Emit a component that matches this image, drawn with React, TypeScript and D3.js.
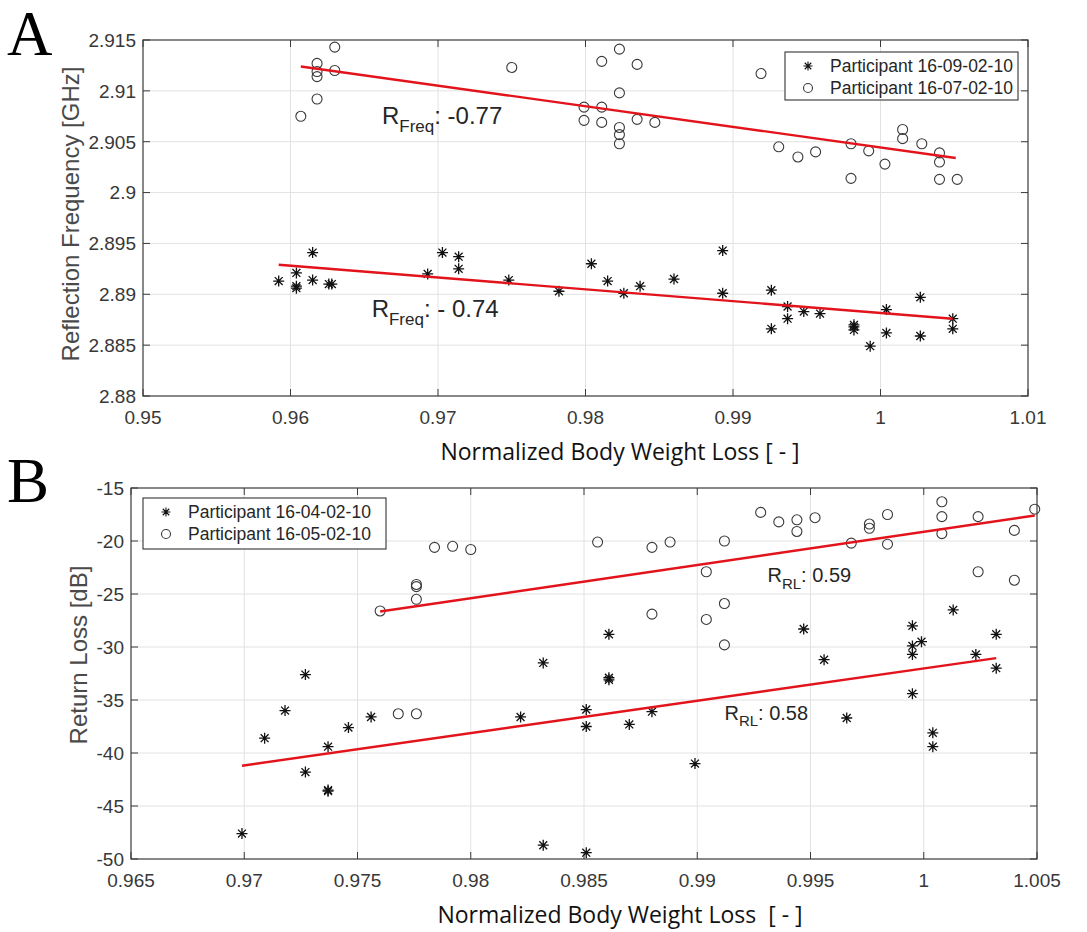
import React from 'react';
import * as d3 from 'd3';

type Pt = [number, number];

// ---------- Panel A data ----------
const aXTicks = [0.95, 0.96, 0.97, 0.98, 0.99, 1, 1.01];
const aYTicks = [2.88, 2.885, 2.89, 2.895, 2.9, 2.905, 2.91, 2.915];

const aStarX = [0.9592, 0.9604, 0.9604, 0.9604, 0.9615, 0.9615, 0.9626, 0.9628, 0.9693, 0.9703, 0.9714, 0.9714, 0.9748,
  0.9782, 0.9804, 0.9815, 0.9826, 0.9837, 0.9860, 0.9893, 0.9893, 0.9926, 0.9926, 0.9937, 0.9937, 0.9948, 0.9959,
  0.9982, 0.9982, 0.9982, 0.9993, 1.0004, 1.0004, 1.0027, 1.0027, 1.0049, 1.0049];
const aStarY = [2.8913, 2.8921, 2.8908, 2.8906, 2.8941, 2.8914, 2.8910, 2.8910, 2.8920, 2.8941, 2.8937, 2.8925, 2.8914,
  2.8903, 2.8930, 2.8913, 2.8901, 2.8908, 2.8915, 2.8943, 2.8901, 2.8904, 2.8866, 2.8888, 2.8876, 2.8883, 2.8881,
  2.8870, 2.8868, 2.8865, 2.8849, 2.8885, 2.8862, 2.8897, 2.8859, 2.8876, 2.8866];

const aCircleX = [0.9607, 0.9618, 0.9618, 0.9618, 0.9618, 0.9630, 0.9630, 0.9750, 0.9823, 0.9811, 0.9835, 0.9919,
  0.9823, 0.9799, 0.9811, 0.9799, 0.9811, 0.9823, 0.9823, 0.9823, 0.9835, 0.9847, 0.9931, 0.9944, 0.9956, 0.9980,
  0.9992, 1.0003, 0.9980, 1.0015, 1.0015, 1.0028, 1.0040, 1.0040, 1.0040, 1.0052];
const aCircleY = [2.9075, 2.9127, 2.9119, 2.9114, 2.9092, 2.9143, 2.9120, 2.9123, 2.9141, 2.9129, 2.9126, 2.9117,
  2.9098, 2.9084, 2.9084, 2.9071, 2.9069, 2.9064, 2.9057, 2.9048, 2.9072, 2.9069, 2.9045, 2.9035, 2.9040, 2.9048,
  2.9041, 2.9028, 2.9014, 2.9062, 2.9053, 2.9048, 2.9039, 2.9030, 2.9013, 2.9013];

const aStarFitX = [0.9592, 1.0049];
const aStarFitY = [2.8929, 2.8876];
const aCircleFitX = [0.9607, 1.0051];
const aCircleFitY = [2.9124, 2.9034];

// ---------- Panel B data ----------
const bXTicks = [0.965, 0.97, 0.975, 0.98, 0.985, 0.99, 0.995, 1, 1.005];
const bYTicks = [-50, -45, -40, -35, -30, -25, -20, -15];

const bStarX = [0.9699, 0.9709, 0.9718, 0.9727, 0.9727, 0.9737, 0.9737, 0.9737, 0.9746, 0.9756, 0.9822, 0.9832,
  0.9832, 0.9851, 0.9851, 0.9851, 0.9861, 0.9861, 0.9861, 0.9870, 0.9880, 0.9899, 0.9947, 0.9956, 0.9966, 0.9995,
  0.9995, 0.9995, 0.9995, 0.9999, 1.0004, 1.0004, 1.0013, 1.0023, 1.0032, 1.0032];
const bStarY = [-47.6, -38.6, -36.0, -32.6, -41.8, -39.4, -43.5, -43.6, -37.6, -36.6, -36.6, -31.5,
  -48.7, -35.9, -37.5, -49.4, -28.8, -32.9, -33.1, -37.3, -36.1, -41.0, -28.3, -31.2, -36.7, -28.0,
  -29.9, -30.7, -34.4, -29.5, -38.1, -39.4, -26.5, -30.7, -28.8, -32.0];

const bCircleX = [0.9760, 0.9776, 0.9776, 0.9776, 0.9784, 0.9792, 0.9800, 0.9768, 0.9776, 0.9856, 0.9880, 0.9888,
  0.9912, 0.9904, 0.9912, 0.9904, 0.9880, 0.9912, 0.9928, 0.9936, 0.9944, 0.9944, 0.9952, 0.9968, 0.9976, 0.9976,
  0.9984, 0.9984, 1.0008, 1.0008, 1.0008, 1.0024, 1.0024, 1.0049, 1.0040, 1.0040];
const bCircleY = [-26.6, -24.1, -24.3, -25.5, -20.6, -20.5, -20.8, -36.3, -36.3, -20.1, -20.6, -20.1,
  -20.0, -22.9, -25.9, -27.4, -26.9, -29.8, -17.3, -18.2, -18.0, -19.1, -17.8, -20.2, -18.4, -18.8,
  -17.5, -20.3, -16.3, -17.7, -19.3, -17.7, -22.9, -17.0, -19.0, -23.7];

const bStarFitX = [0.9699, 1.0032];
const bStarFitY = [-41.2, -31.05];
const bCircleFitX = [0.9760, 1.0049];
const bCircleFitY = [-26.65, -17.6];

const zip = (xs: number[], ys: number[]): Pt[] => xs.map((v, i) => [v, ys[i]] as Pt);

const starPath = (r: number) => {
  const p = d3.path();
  const a = r * 0.72;
  p.moveTo(-r, 0); p.lineTo(r, 0);
  p.moveTo(0, -r); p.lineTo(0, r);
  p.moveTo(-a, -a); p.lineTo(a, a);
  p.moveTo(-a, a); p.lineTo(a, -a);
  return p.toString();
};

const FONT = '"Liberation Sans", Arial, Helvetica, sans-serif';
const TITLE_FONT = '"Open Sans", "Noto Sans", sans-serif';

type Note = { x: number; y: number; main: string; sub: string; rest: string; size: number; subSize: number };

type PanelProps = {
  box: { left: number; right: number; top: number; bottom: number };
  xTicks: number[];
  yTicks: number[];
  stars: Pt[];
  circles: Pt[];
  starFit: Pt[];
  circleFit: Pt[];
  legend: { x: number; y: number; w: number; h: number; labels: string[] };
  notes: Note[];
  yLabel: string;
  yLabelX: number;
  yLabelY: number;
  xTitle: string;
  xTitleY: number;
  letter: string;
  letterY: number;
};

const Panel = (p: PanelProps) => {
  const { box } = p;
  const x = d3.scaleLinear().domain([p.xTicks[0], p.xTicks[p.xTicks.length - 1]]).range([box.left, box.right]);
  const y = d3.scaleLinear().domain([p.yTicks[0], p.yTicks[p.yTicks.length - 1]]).range([box.bottom, box.top]);
  const line = d3.line<Pt>().x(d => x(d[0])).y(d => y(d[1]));
  const star = starPath(5.5);
  const legendStar = starPath(4.5);
  const tl = 7;
  const axisColor = '#3a3a3a';
  return (
    <g>
      <text x={7} y={p.letterY} fontFamily='"Liberation Serif", "Times New Roman", serif' fontSize={63} fill="#000">{p.letter}</text>
      {/* grid */}
      {p.xTicks.slice(1, -1).map(t => (
        <line key={'gx' + t} x1={x(t)} x2={x(t)} y1={box.top} y2={box.bottom} stroke="#e2e2e2" strokeWidth={1} />
      ))}
      {p.yTicks.slice(1, -1).map(t => (
        <line key={'gy' + t} y1={y(t)} y2={y(t)} x1={box.left} x2={box.right} stroke="#e2e2e2" strokeWidth={1} />
      ))}
      {/* ticks */}
      {p.xTicks.map(t => (
        <g key={'tx' + t}>
          <line x1={x(t)} x2={x(t)} y1={box.bottom} y2={box.bottom - tl} stroke={axisColor} />
          <line x1={x(t)} x2={x(t)} y1={box.top} y2={box.top + tl} stroke={axisColor} />
          <text x={x(t)} y={box.bottom + 28} textAnchor="middle" fontFamily={FONT} fontSize={19} fill="#383838">{String(t)}</text>
        </g>
      ))}
      {p.yTicks.map(t => (
        <g key={'ty' + t}>
          <line y1={y(t)} y2={y(t)} x1={box.left} x2={box.left + tl} stroke={axisColor} />
          <line y1={y(t)} y2={y(t)} x1={box.right} x2={box.right - tl} stroke={axisColor} />
          <text x={box.left - 7} y={y(t)} dy="0.36em" textAnchor="end" fontFamily={FONT} fontSize={19} fill="#383838">{String(t)}</text>
        </g>
      ))}
      <rect x={box.left} y={box.top} width={box.right - box.left} height={box.bottom - box.top} fill="none" stroke={axisColor} strokeWidth={1.2} />
      {/* data */}
      {p.circles.map((d, i) => (
        <circle key={'c' + i} cx={x(d[0])} cy={y(d[1])} r={5} fill="none" stroke="#3a3a3a" strokeWidth={1.1} />
      ))}
      {p.stars.map((d, i) => (
        <path key={'s' + i} d={star} transform={`translate(${x(d[0])},${y(d[1])})`} fill="none" stroke="#111" strokeWidth={1.3} />
      ))}
      <path d={line(p.circleFit) || ''} fill="none" stroke="#e3131b" strokeWidth={2.4} />
      <path d={line(p.starFit) || ''} fill="none" stroke="#e3131b" strokeWidth={2.4} />
      {/* notes */}
      {p.notes.map((n, i) => (
        <text key={'n' + i} x={x(n.x)} y={y(n.y)} fontFamily={FONT} fontSize={n.size} fill="#262626">
          <tspan>{n.main}</tspan>
          <tspan fontSize={n.subSize} dy={n.size * 0.33}>{n.sub}</tspan>
          <tspan dy={-n.size * 0.33}>{n.rest}</tspan>
        </text>
      ))}
      {/* legend */}
      <rect x={p.legend.x} y={p.legend.y} width={p.legend.w} height={p.legend.h} fill="#fff" stroke="#333" strokeWidth={1.1} />
      <path d={legendStar} transform={`translate(${p.legend.x + 23},${p.legend.y + 14})`} fill="none" stroke="#111" strokeWidth={1.1} />
      <circle cx={p.legend.x + 23} cy={p.legend.y + 36} r={4.5} fill="none" stroke="#3a3a3a" strokeWidth={1.1} />
      {p.legend.labels.map((l, i) => (
        <text key={'l' + i} x={p.legend.x + 45} y={p.legend.y + 14 + i * 22} dy="0.36em" fontFamily={FONT} fontSize={17.5} fill="#262626">{l}</text>
      ))}
      {/* axis labels */}
      <text transform={`translate(${p.yLabelX},${p.yLabelY}) rotate(-90)`} textAnchor="middle" fontFamily={FONT} fontSize={24} fill="#4a4a4a">{p.yLabel}</text>
      <text x={620} y={p.xTitleY} textAnchor="middle" fontFamily={TITLE_FONT} fontSize={23} fill="#111">{p.xTitle}</text>
    </g>
  );
};

export default function App() {
  return (
    <svg width={1087} height={932} style={{ position: 'absolute', left: 0, top: 0, background: '#fff' }}>
      <rect width={1087} height={932} fill="#fff" />
      <Panel
        box={{ left: 143, right: 1028, top: 40, bottom: 396 }}
        xTicks={aXTicks}
        yTicks={aYTicks}
        stars={zip(aStarX, aStarY)}
        circles={zip(aCircleX, aCircleY)}
        starFit={zip(aStarFitX, aStarFitY)}
        circleFit={zip(aCircleFitX, aCircleFitY)}
        legend={{ x: 785, y: 52, w: 233, h: 48, labels: ['Participant 16-09-02-10', 'Participant 16-07-02-10'] }}
        notes={[
          { x: 0.9662, y: 2.90673, main: 'R', sub: 'Freq', rest: ': -0.77', size: 24, subSize: 17 },
          { x: 0.9655, y: 2.88775, main: 'R', sub: 'Freq', rest: ': - 0.74', size: 24, subSize: 17 },
        ]}
        yLabel="Reflection Frequency [GHz]"
        yLabelX={79}
        yLabelY={214}
        xTitle="Normalized Body Weight Loss [ - ]"
        xTitleY={460}
        letter="A"
        letterY={55}
      />
      <Panel
        box={{ left: 131, right: 1037, top: 488, bottom: 859 }}
        xTicks={bXTicks}
        yTicks={bYTicks}
        stars={zip(bStarX, bStarY)}
        circles={zip(bCircleX, bCircleY)}
        starFit={zip(bStarFitX, bStarFitY)}
        circleFit={zip(bCircleFitX, bCircleFitY)}
        legend={{ x: 143, y: 498, w: 243, h: 51, labels: ['Participant 16-04-02-10', 'Participant 16-05-02-10'] }}
        notes={[
          { x: 0.9931, y: -23.87, main: 'R', sub: 'RL', rest: ': 0.59', size: 20, subSize: 15 },
          { x: 0.9912, y: -36.85, main: 'R', sub: 'RL', rest: ': 0.58', size: 20, subSize: 15 },
        ]}
        yLabel="Return Loss [dB]"
        yLabelX={87}
        yLabelY={655}
        xTitle={'Normalized Body Weight Loss\u00A0 [ - ]'}
        xTitleY={923}
        letter="B"
        letterY={502}
      />
    </svg>
  );
}
